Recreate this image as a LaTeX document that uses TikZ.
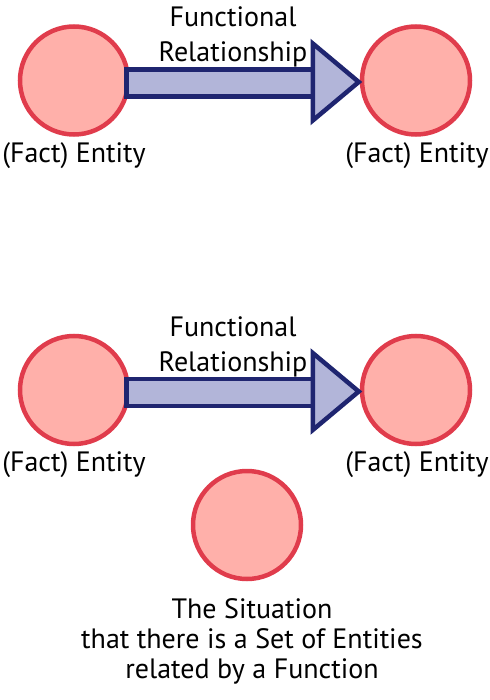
\documentclass[tikz,border=0pt]{standalone}
\usepackage{fontspec}
\setmainfont{PT Sans}
\usetikzlibrary{arrows.meta, positioning, calc}

\definecolor{entfill}{HTML}{FFB0AA}
\definecolor{entline}{HTML}{E03C4C}
\definecolor{relfill}{HTML}{B2B5D9}
\definecolor{relline}{HTML}{1F2570}

\tikzset{
  entity/.style={circle, draw=entline, fill=entfill, line width=4.5pt, minimum size=108pt, inner sep=0pt},
  lbl/.style={font=\fontsize{28}{30}\selectfont, inner sep=0pt, align=center, anchor=base},
  relshape/.style={draw=relline, fill=relfill, line width=4.5pt, line join=miter}
}

\begin{document}
\begin{tikzpicture}[x=1pt, y=-1pt]
\useasboundingbox (0,0) rectangle (489,700);

% first picture: two entities and the relationship
\node[entity] (e1) at (74,80.5) {};
\node[entity] (e2) at (416,80.5) {};
\draw[relshape] ($(e1.east)+(-4,-11)$) rectangle ($(e2.west)+(-47,16)$);
\draw[relshape] ($(e2.west)+(-47,-37)$) -- ($(e2.west)+(-47,40)$) -- ($(e2.west)+(-1,1.5)$) -- cycle;
\node[lbl] (r1) at (233,62) {Functional\\[5pt]Relationship};
\node[lbl] (l1) at (74,163) {(Fact) Entity};
\node[lbl] (l2) at (417,163) {(Fact) Entity};

% second picture: the same, with the situation
\node[entity] (e3) at (74,390) {};
\node[entity] (e4) at (416,390) {};
\draw[relshape] ($(e3.east)+(-4,-11)$) rectangle ($(e4.west)+(-47,16)$);
\draw[relshape] ($(e4.west)+(-47,-37)$) -- ($(e4.west)+(-47,40)$) -- ($(e4.west)+(-1,1.5)$) -- cycle;
\node[lbl] (r2) at (233,371) {Functional\\[5pt]Relationship};
\node[lbl] (l3) at (74,471) {(Fact) Entity};
\node[lbl] (l4) at (417,471) {(Fact) Entity};

\node[entity] (s) at (247,525) {};
\node[lbl] (st) at (252,678) {The Situation\\that there is a Set of Entities\\related by a Function};
\end{tikzpicture}
\end{document}
